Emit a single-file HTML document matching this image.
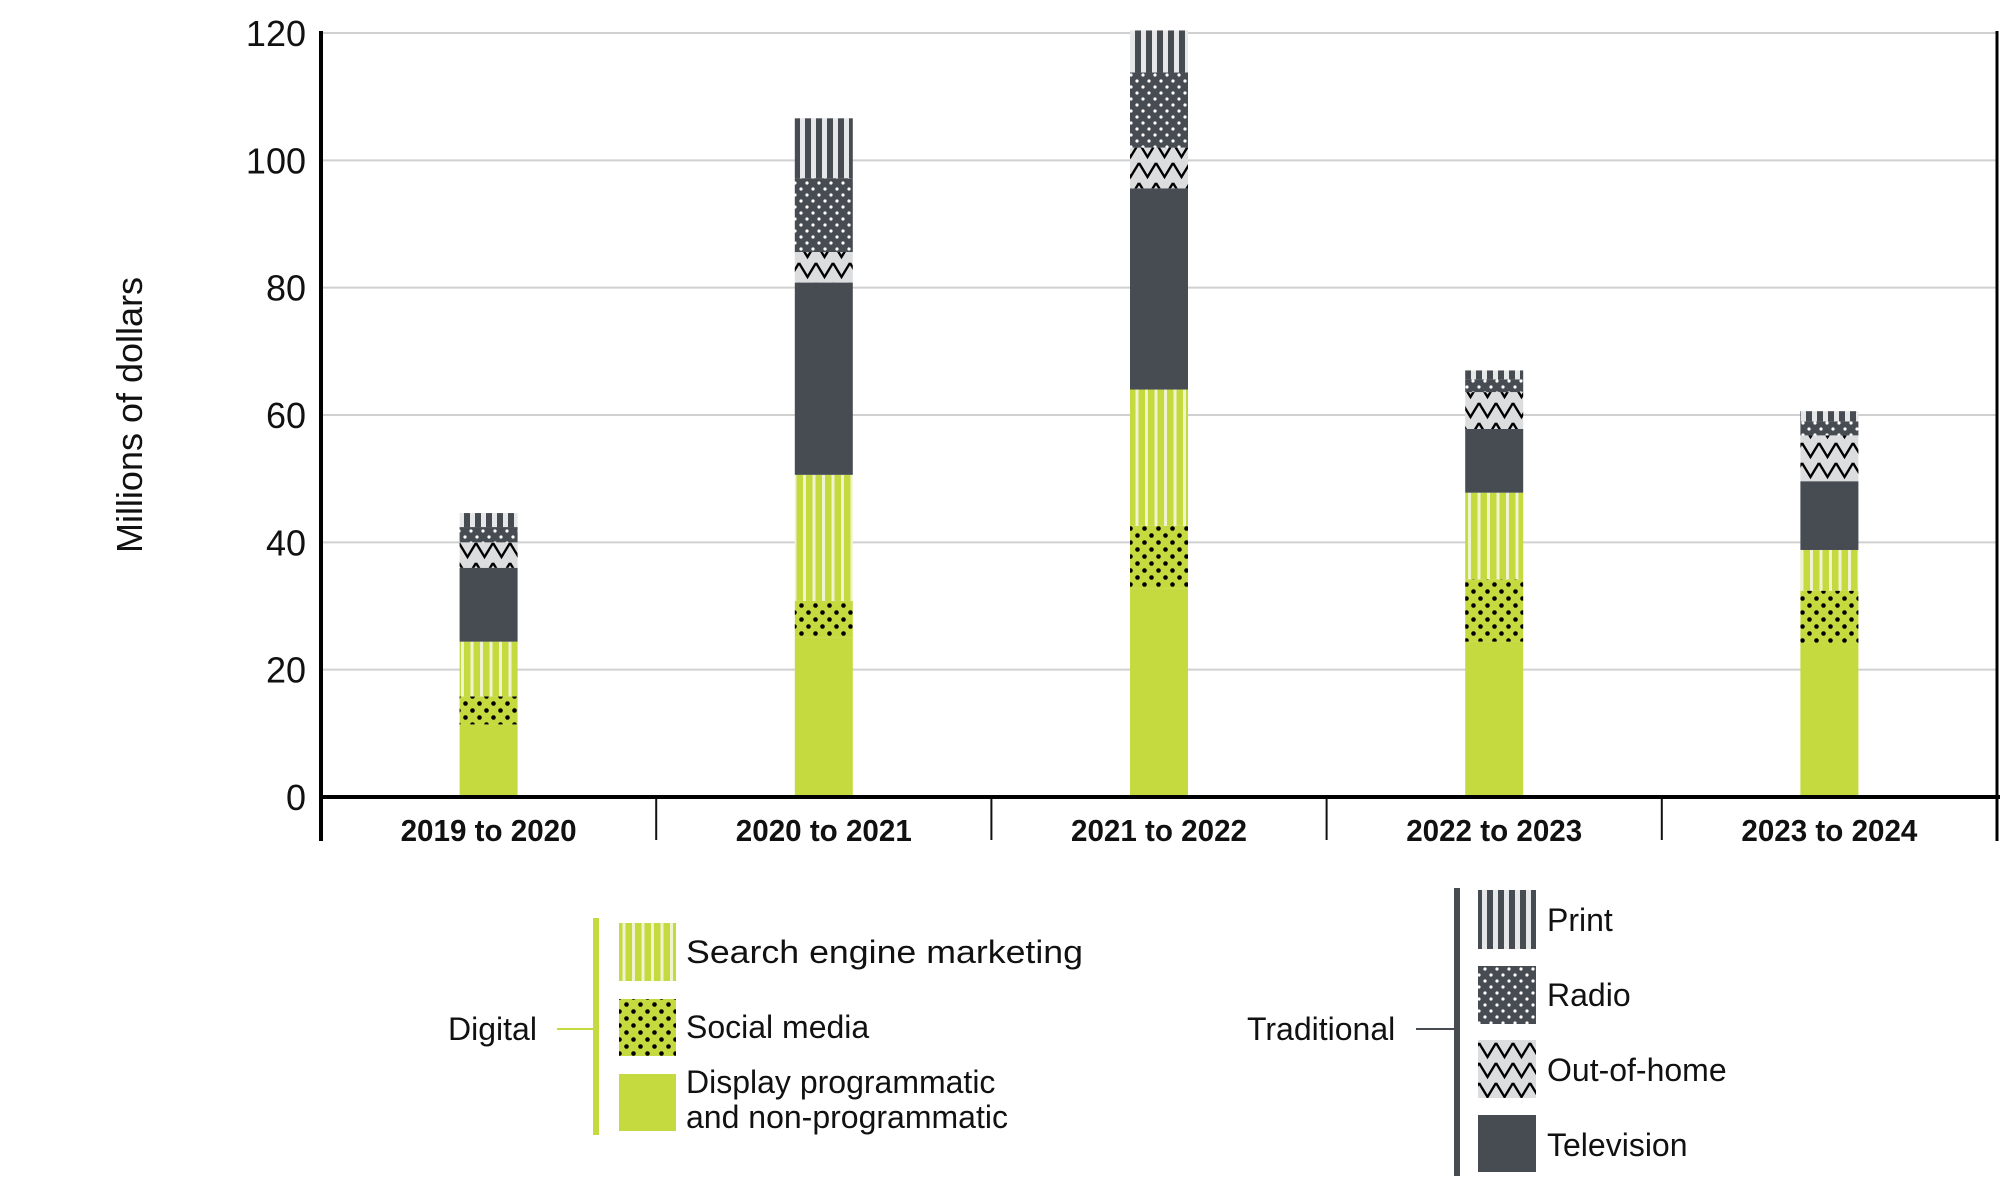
<!DOCTYPE html>
<html><head><meta charset="utf-8"><style>
html,body{margin:0;padding:0;background:#fff;}
svg{display:block;font-family:"Liberation Sans",sans-serif;}
</style></head><body>
<svg id="chart" width="2000" height="1193" viewBox="0 0 2000 1193">
<defs>
<pattern id="pSearch" patternUnits="userSpaceOnUse" width="9.5" height="10"><rect width="9.5" height="10" fill="#c4da3e"/><rect x="5" width="3" height="10" fill="#eef4d0"/></pattern>
<pattern id="pSocial" patternUnits="userSpaceOnUse" width="14" height="14"><rect width="14" height="14" fill="#c4da3e"/><circle cx="3.5" cy="3.5" r="2.3" fill="#000"/><circle cx="10.5" cy="10.5" r="2.3" fill="#000"/></pattern>
<pattern id="pPrint" patternUnits="userSpaceOnUse" width="11" height="10"><rect width="11" height="10" fill="#e6e7e8"/><rect x="2" width="6" height="10" fill="#474b52"/></pattern>
<pattern id="pRadio" patternUnits="userSpaceOnUse" width="12" height="12"><rect width="12" height="12" fill="#474b52"/><circle cx="3" cy="3" r="1.6" fill="#fff"/><circle cx="9" cy="9" r="1.6" fill="#fff"/></pattern>
<pattern id="pOoh" patternUnits="userSpaceOnUse" width="17" height="20"><rect width="17" height="20" fill="#dcdddf"/><polyline points="0,3 8.5,17 17,3" fill="none" stroke="#000" stroke-width="2.4"/></pattern>
</defs>
<g id="grid"></g>
<g id="bars"></g>
<g id="axes"></g>
<text x="0" y="0" transform="translate(142,415) rotate(-90)" text-anchor="middle" font-size="36" fill="#111">Millions of dollars</text>

<g>
<text x="448" y="1040" font-size="32" fill="#111">Digital</text>
<line x1="557" y1="1029" x2="596" y2="1029" stroke="#c4da3e" stroke-width="2"/>
<rect x="593" y="918" width="6" height="217" fill="#c4da3e"/>
<rect x="619" y="923" width="57" height="58" fill="url(#pSearch)"/>
<text x="686" y="963" font-size="32" fill="#111" textLength="397" lengthAdjust="spacingAndGlyphs">Search engine marketing</text>
<rect x="619" y="999" width="57" height="57" fill="url(#pSocial)"/>
<text x="686" y="1038" font-size="32" fill="#111">Social media</text>
<rect x="619" y="1074" width="57" height="57" fill="#c4da3e"/>
<text x="686" y="1093" font-size="32" fill="#111">Display programmatic</text>
<text x="686" y="1128" font-size="32" fill="#111">and non-programmatic</text>
</g>
<g>
<text x="1247" y="1040" font-size="32" fill="#111">Traditional</text>
<line x1="1416" y1="1029" x2="1455" y2="1029" stroke="#474b52" stroke-width="2"/>
<rect x="1454" y="888" width="6" height="288" fill="#474b52"/>
<rect x="1478" y="890" width="58" height="59" fill="url(#pPrint)"/>
<text x="1547" y="931" font-size="32" fill="#111">Print</text>
<rect x="1478" y="966" width="58" height="58" fill="url(#pRadio)"/>
<text x="1547" y="1006" font-size="32" fill="#111">Radio</text>
<rect x="1478" y="1040" width="58" height="58" fill="url(#pOoh)"/>
<text x="1547" y="1081" font-size="32" fill="#111">Out-of-home</text>
<rect x="1478" y="1115" width="58" height="57" fill="#474b52"/>
<text x="1547" y="1156" font-size="32" fill="#111">Television</text>
</g>
</svg>
<script>
const categories = ["2019 to 2020","2020 to 2021","2021 to 2022","2022 to 2023","2023 to 2024"];
const display = [11.4, 25.0, 32.8, 24.4, 24.2];
const social = [4.4, 5.8, 9.8, 9.8, 8.2];
const search = [8.6, 19.8, 21.4, 13.6, 6.4];
const television = [11.6, 30.2, 31.6, 10.0, 10.8];
const outOfHome = [4.0, 4.8, 6.4, 5.8, 7.2];
const radio = [2.4, 11.6, 11.8, 2.0, 2.2];
const print = [2.2, 9.4, 6.6, 1.4, 1.6];
const yTicks = [0, 20, 40, 60, 80, 100, 120];

const NS = "http://www.w3.org/2000/svg";
const x0 = 321, x1 = 1997, yZero = 797, yTop = 33, yMax = 120;
const band = (x1 - x0) / categories.length;
const barW = 58;
function yScale(v){ return yZero - v * (yZero - yTop) / yMax; }
function xCenter(i){ return x0 + band * (i + 0.5); }
function mk(tag, attrs, parent){ const e = document.createElementNS(NS, tag); for (const k in attrs) e.setAttribute(k, attrs[k]); parent.appendChild(e); return e; }

const grid = document.getElementById("grid");
const axes = document.getElementById("axes");
const bars = document.getElementById("bars");

yTicks.forEach(t => {
  const y = yScale(t);
  if (t > 0) {
    const g = mk("line", {x1: x0, x2: x1, y1: y, y2: y, stroke: "#d0d0d0", "stroke-width": 2}, grid);
    
    
  }
  const tx = mk("text", {x: 306, y: y + 13, "text-anchor": "end", "font-size": 36, fill: "#111"}, axes);
  
  
  tx.textContent = t;
});

const series = [
  {vals: display, fill: "#c4da3e", name: "display"},
  {vals: social, fill: "url(#pSocial)", name: "social"},
  {vals: search, fill: "url(#pSearch)", name: "search"},
  {vals: television, fill: "#474b52", name: "television"},
  {vals: outOfHome, fill: "url(#pOoh)", name: "out-of-home"},
  {vals: radio, fill: "url(#pRadio)", name: "radio"},
  {vals: print, fill: "url(#pPrint)", name: "print"}
];

categories.forEach((c, i) => {
  let cum = 0;
  const cx = xCenter(i);
  series.forEach(s => {
    const v = s.vals[i];
    const yA = yScale(cum + v), yB = yScale(cum);
    const r = mk("rect", {x: cx - barW/2, y: yA, width: barW, height: yB - yA, fill: s.fill}, bars);
    
    
    cum += v;
  });
  const lab = mk("text", {x: cx, y: 841, "text-anchor": "middle", "font-size": 31, "font-weight": "bold", fill: "#111", textLength: 176, lengthAdjust: "spacingAndGlyphs"}, axes);
  
  
  lab.textContent = c;
  if (i > 0) {
    const d = mk("line", {x1: x0 + band*i, x2: x0 + band*i, y1: yZero, y2: 840, stroke: "#111", "stroke-width": 2}, axes);
    
    
  }
});

const ya = mk("line", {x1: x0, x2: x0, y1: yTop - 2, y2: 841, stroke: "#000", "stroke-width": 4}, axes);


const ra = mk("line", {x1: x1, x2: x1, y1: yTop - 2, y2: 841, stroke: "#000", "stroke-width": 3}, axes);


const xa = mk("line", {x1: x0, x2: 2000, y1: yZero, y2: yZero, stroke: "#000", "stroke-width": 4}, axes);


</script>
</body></html>
